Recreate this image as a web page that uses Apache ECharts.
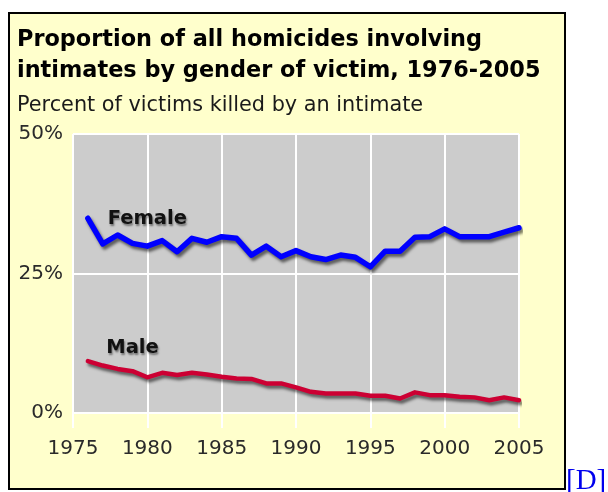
<!DOCTYPE html>
<html>
<head>
<meta charset="utf-8">
<script src="https://cdn.jsdelivr.net/npm/echarts@6/dist/echarts.min.js"></script>
<style>
  html, body { margin: 0; padding: 0; background: #ffffff; }
  #frame { position: absolute; left: 8px; top: 12px; width: 554px; height: 474px; background: #FFFFCC; border: 2px solid #000; }
  #chart { position: absolute; left: 0; top: 0; width: 608px; height: 492px; }
  #link { position: absolute; left: 566px; top: 465px; font-family: "Liberation Serif", "Times New Roman", serif; font-size: 29px; line-height: 29px; color: #0000EE; text-decoration: none; }
</style>
</head>
<body>
<div id="frame"></div>
<div id="chart"></div>
<a id="link" href="#">[D]</a>
<script>
const years = [1976,1977,1978,1979,1980,1981,1982,1983,1984,1985,1986,1987,1988,1989,1990,
               1991,1992,1993,1994,1995,1996,1997,1998,1999,2000,2001,2002,2003,2004,2005];
const femaleValues = [34.9,30.3,31.9,30.4,29.9,30.9,28.9,31.3,30.6,31.6,31.3,28.3,29.9,28.0,29.1,
                      28.0,27.5,28.3,27.9,26.2,29.0,29.0,31.5,31.6,33.0,31.6,31.6,31.6,32.4,33.2];
const maleValues = [9.3,8.5,7.9,7.5,6.4,7.2,6.8,7.2,6.9,6.5,6.2,6.1,5.3,5.3,4.6,
                    3.8,3.5,3.5,3.5,3.1,3.1,2.6,3.7,3.2,3.2,2.9,2.8,2.3,2.8,2.3];
const yTicks = [0, 25, 50];
const xTicks = [1975, 1980, 1985, 1990, 1995, 2000, 2005];
const seriesNames = ['Female', 'Male'];
const labelAnchors = [[1980.0, 34.8], [1979.0, 11.65]];
const titleLines = ['Proportion of all homicides involving', 'intimates by gender of victim, 1976-2005'];
const subtitle = 'Percent of victims killed by an intimate';

const FONT = '"DejaVu Sans", sans-serif';
const chart = echarts.init(document.getElementById('chart'), null, { renderer: 'canvas' });

function pairs(vals) { return years.map((y, i) => [y, vals[i]]); }

const lineShadow = { shadowColor: 'rgba(0,0,0,0.55)', shadowBlur: 3, shadowOffsetX: 2, shadowOffsetY: 3 };
const labelStyle = {
  show: true, position: 'inside', fontFamily: FONT, fontWeight: 'bold', fontSize: 19.5, color: '#111',
  textShadowColor: 'rgba(0,0,0,0.45)', textShadowBlur: 2, textShadowOffsetX: 1, textShadowOffsetY: 2,
  formatter: p => p.name
};

chart.setOption({
  animation: false,
  backgroundColor: 'transparent',
  grid: { left: 73, top: 134, right: 89, bottom: 79, show: true, backgroundColor: '#CCCCCC', borderWidth: 0 },
  graphic: [
    { type: 'text', x: 17, y: 40, style: { text: titleLines[0], font: 'bold 22.4px ' + FONT, fill: '#000', textVerticalAlign: 'middle' } },
    { type: 'text', x: 17, y: 71.5, style: { text: titleLines[1], font: 'bold 22.4px ' + FONT, fill: '#000', textVerticalAlign: 'middle' } },
    { type: 'text', x: 17, y: 106, style: { text: subtitle, font: '20.8px ' + FONT, fill: '#1a1a1a', textVerticalAlign: 'middle' } }
  ],
  xAxis: {
    type: 'value', min: xTicks[0], max: xTicks[xTicks.length - 1], interval: 5,
    axisLine: { show: true, lineStyle: { color: '#ffffff', width: 2 } },
    axisTick: { show: true, length: 15, lineStyle: { color: '#ffffff', width: 2 } },
    splitLine: { show: true, lineStyle: { color: '#ffffff', width: 2 } },
    axisLabel: { margin: 26, fontFamily: FONT, fontSize: 20, color: '#2a2a2a', formatter: v => String(v) }
  },
  yAxis: {
    type: 'value', min: yTicks[0], max: yTicks[yTicks.length - 1], interval: 25,
    axisLine: { show: false }, axisTick: { show: false },
    splitLine: { show: true, lineStyle: { color: '#ffffff', width: 2 } },
    axisLabel: { margin: 10, fontFamily: FONT, fontSize: 20, color: '#2a2a2a', formatter: v => v + '%' }
  },
  series: [
    {
      name: seriesNames[0], type: 'line', data: pairs(femaleValues), symbol: 'none', silent: true,
      lineStyle: Object.assign({ color: '#0000FF', width: 5.5, join: 'round', cap: 'round' }, lineShadow),
      markPoint: { silent: true, symbol: 'circle', symbolSize: 0, label: labelStyle,
        data: [{ name: seriesNames[0], coord: labelAnchors[0] }] }
    },
    {
      name: seriesNames[1], type: 'line', data: pairs(maleValues), symbol: 'none', silent: true,
      lineStyle: Object.assign({ color: '#CC0033', width: 4.5, join: 'round', cap: 'round' }, lineShadow),
      markPoint: { silent: true, symbol: 'circle', symbolSize: 0, label: labelStyle,
        data: [{ name: seriesNames[1], coord: labelAnchors[1] }] }
    }
  ]
});
</script>
</body>
</html>
